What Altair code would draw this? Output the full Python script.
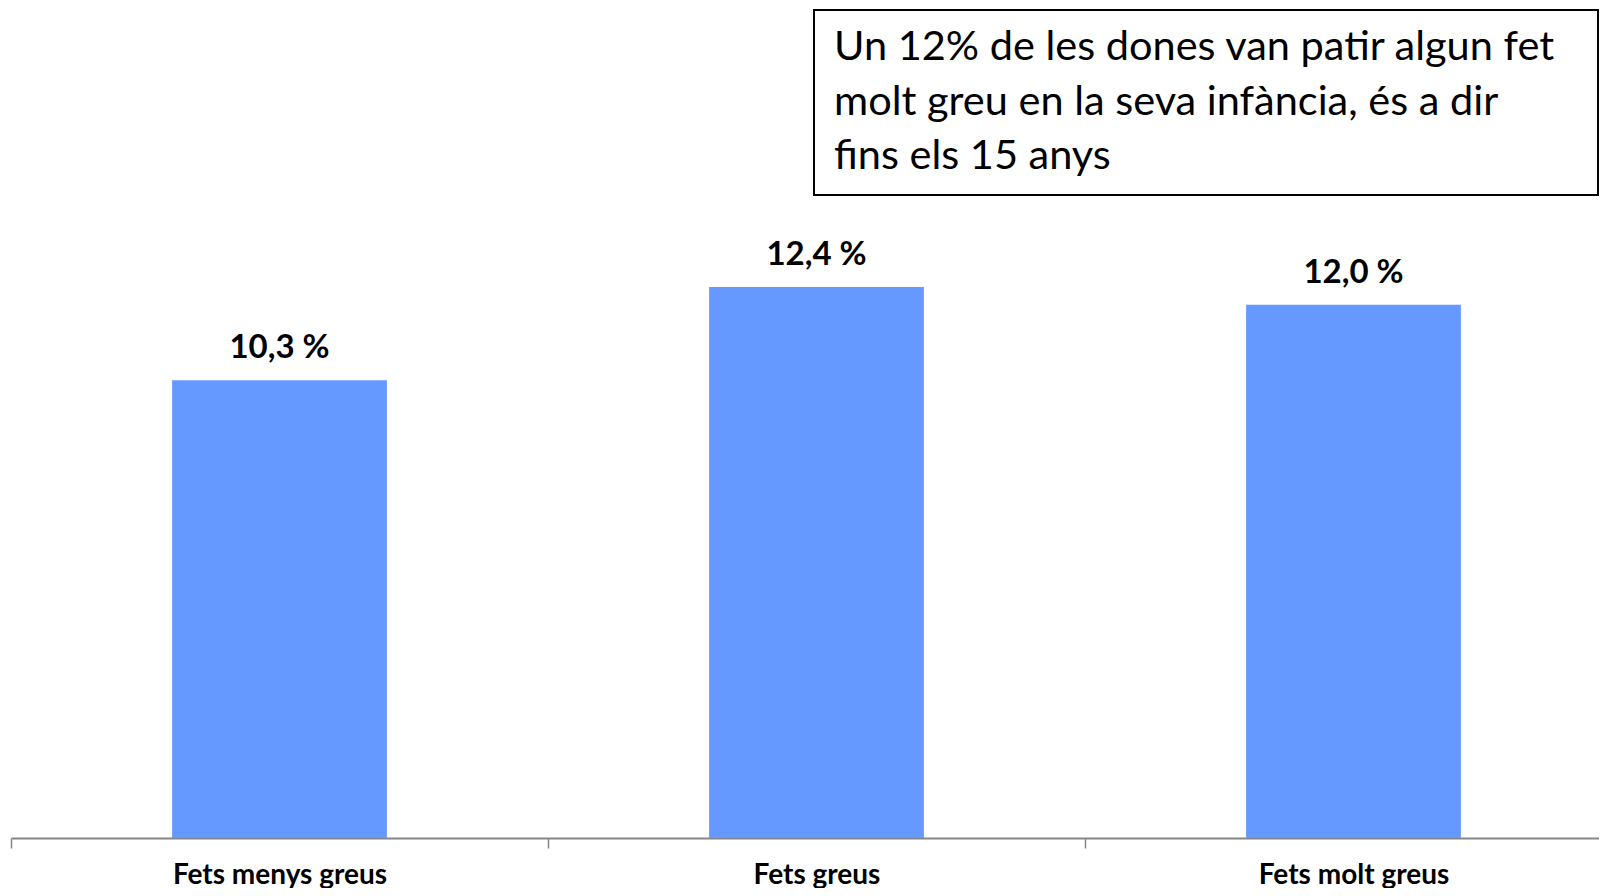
import altair as alt
import pandas as pd

categories = ["Fets menys greus", "Fets greus", "Fets molt greus"]
values = [10.3, 12.4, 12.0]
value_labels = ["10,3 %", "12,4 %", "12,0 %"]
note_lines = [
    "Un 12% de les dones van patir algun fet",
    "molt greu en la seva infància, és a dir",
    "fins els 15 anys",
]

df = pd.DataFrame({"cat": categories, "value": values, "label": value_labels})

W, H = 1586, 828
FONT = "Lato"

x = alt.X(
    "cat:N",
    sort=categories,
    scale=alt.Scale(range=[0, 1611], paddingInner=0, paddingOuter=0),
    axis=alt.Axis(
        title=None,
        labelAngle=0,
        labelFont=FONT,
        labelFontWeight="bold",
        labelFontSize=28,
        labelColor="black",
        labelPadding=13,
        labelLimit=0,
        domainColor="#868686",
        domainWidth=2,
        tickColor="#868686",
        tickWidth=1.5,
        tickSize=10,
        tickBand="extent",
        grid=False,
    ),
)
y = alt.Y("value:Q", scale=alt.Scale(domain=[0, 18.63], nice=False, zero=True), axis=None)

base = alt.Chart(df)
bars = base.mark_bar(color="#6699FF", width=alt.RelativeBandSize(0.4)).encode(x=x, y=y)
labels = base.mark_text(
    font=FONT, fontWeight="bold", fontSize=33, color="black", baseline="middle", dy=-32
).encode(x=x, y=y, text="label:N")

one = pd.DataFrame({"k": [0]})
box = alt.Chart(one).mark_rect(fill="white", stroke="black", strokeWidth=2).encode(
    x=alt.value(803), x2=alt.value(1587), y=alt.value(0), y2=alt.value(185)
)
note = alt.Chart(one).mark_text(
    text=note_lines,
    font=FONT,
    fontSize=41.5,
    color="black",
    align="left",
    baseline="middle",
    lineHeight=54.5,
).encode(x=alt.value(823), y=alt.value(38))

chart = (
    alt.layer(bars, labels, box, note)
    .properties(
        width=W,
        height=H,
        padding={"left": 3, "top": 2, "right": 2, "bottom": 50},
        autosize=alt.AutoSizeParams(type="none"),
        background="white",
    )
    .configure_view(stroke=None)
)

chart.save("out.html", embed_options={"renderer": "svg", "actions": False})
